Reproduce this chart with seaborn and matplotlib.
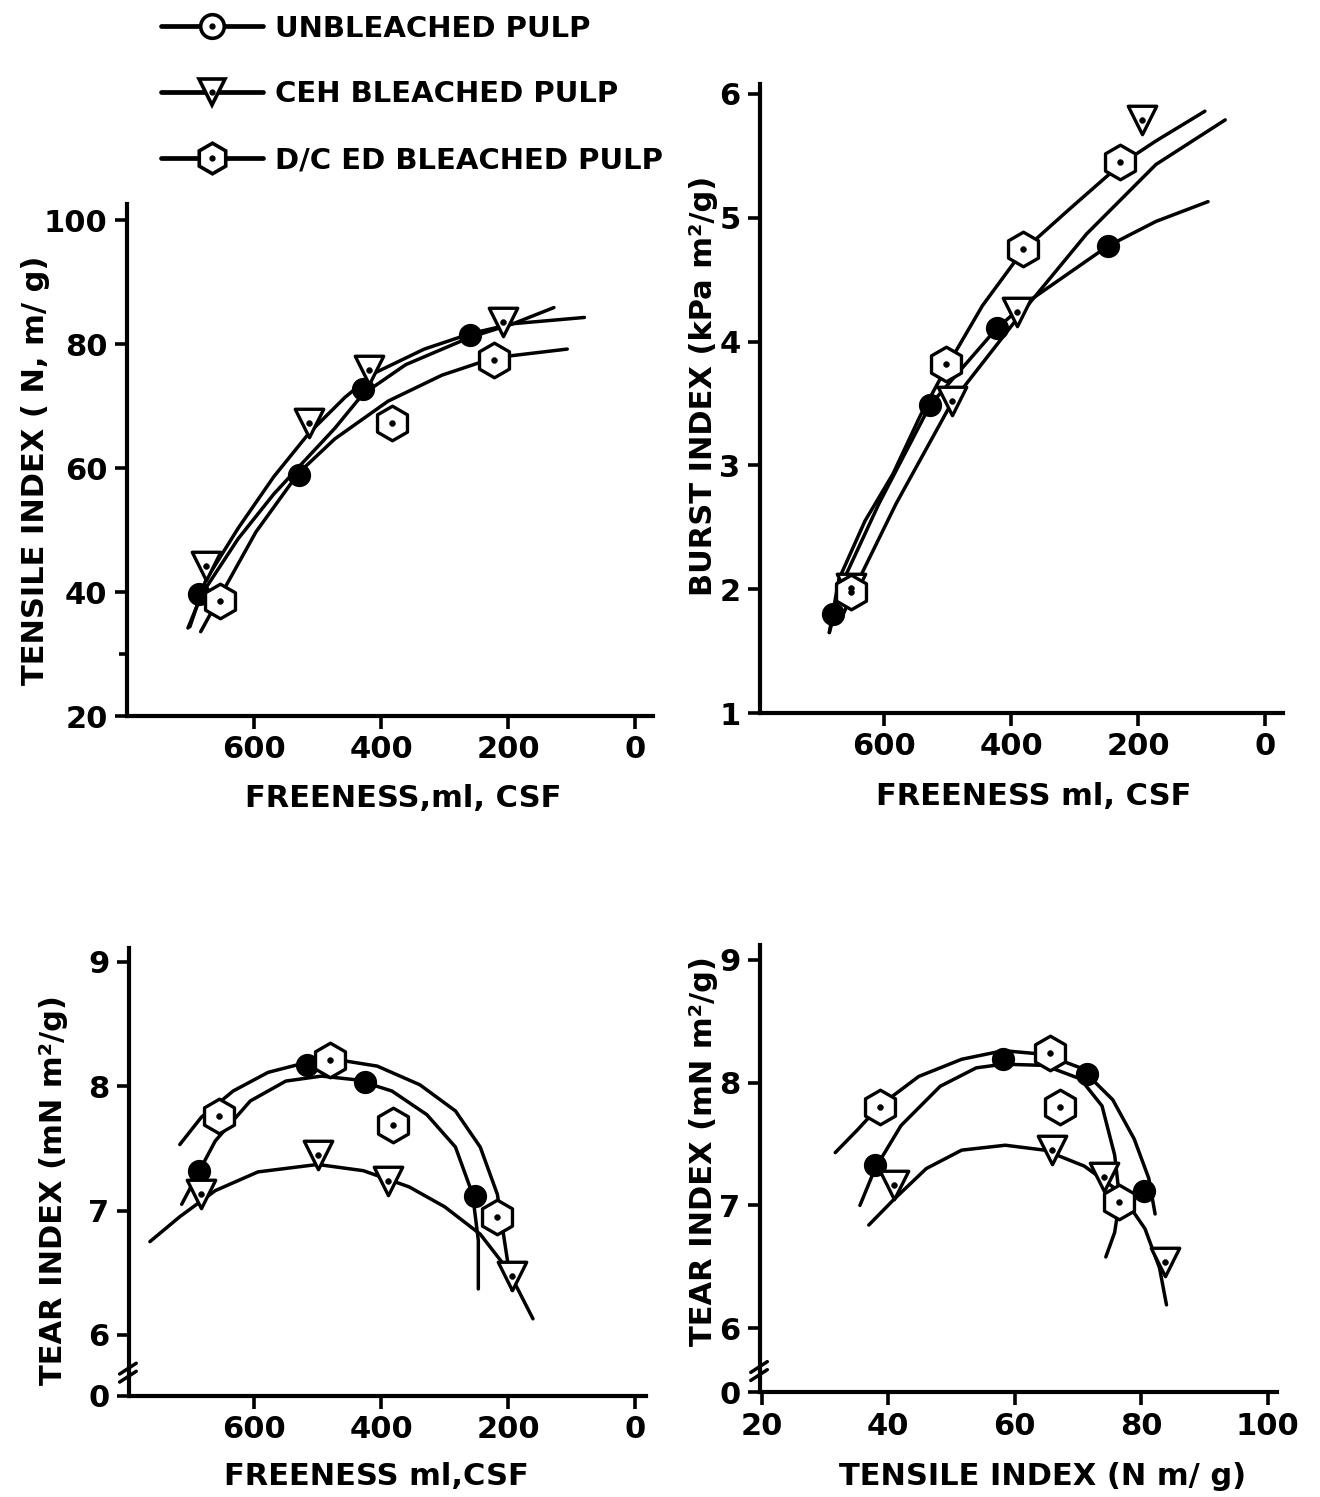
import numpy as np
import pandas as pd
import seaborn as sns
import matplotlib.pyplot as plt
from matplotlib.lines import Line2D
from matplotlib.legend_handler import HandlerTuple

sns.set_style('ticks')
plt.rcParams['font.family'] = ['DejaVu Sans']
plt.rcParams['font.weight'] = 'bold'
plt.rcParams['text.color'] = 'black'
plt.rcParams['axes.labelcolor'] = 'black'
plt.rcParams['axes.edgecolor'] = 'black'
plt.rcParams['xtick.color'] = 'black'
plt.rcParams['ytick.color'] = 'black'

labels = ['UNBLEACHED PULP', 'CEH BLEACHED PULP', 'D/C ED BLEACHED PULP']

# ---- panel 1: tensile index vs freeness (measured points)
p1_unb_x = [687, 530, 429, 260]
p1_unb_y = [39.7, 58.9, 72.8, 81.4]
p1_ceh_x = [676, 513, 419, 208]
p1_ceh_y = [44.2, 67.2, 75.8, 83.6]
p1_dce_x = [654, 383, 222]
p1_dce_y = [38.6, 67.2, 77.5]
# fitted curves as drawn
c1_unb_x = [704, 682, 625, 569, 524, 473, 429, 361, 260, 192, 128]
c1_unb_y = [34.2, 39.7, 48.6, 55.8, 60.8, 66.4, 71.9, 76.7, 81.1, 83.3, 85.9]
c1_ceh_x = [701, 676, 625, 569, 513, 457, 411, 332, 259, 192, 80]
c1_ceh_y = [34.4, 41.9, 50.3, 58.6, 65.7, 71.4, 75.3, 79.2, 81.7, 83.3, 84.3]
c1_dce_x = [684, 654, 597, 530, 473, 389, 304, 222, 107]
c1_dce_y = [33.6, 39.2, 49.7, 59.2, 64.7, 70.8, 75.0, 77.8, 79.2]

# ---- panel 2: burst index vs freeness
p2_unb_x = [680, 527, 422, 248]
p2_unb_y = [1.80, 3.49, 4.11, 4.77]
p2_ceh_x = [652, 493, 390, 194]
p2_ceh_y = [2.01, 3.52, 4.24, 5.79]
p2_dce_x = [652, 503, 382, 228]
p2_dce_y = [1.98, 3.82, 4.75, 5.45]
c2_unb_x = [686, 663, 608, 527, 422, 374, 248, 172, 90]
c2_unb_y = [1.65, 2.08, 2.69, 3.49, 4.11, 4.32, 4.77, 4.97, 5.13]
c2_ceh_x = [663, 646, 581, 493, 379, 281, 172, 63]
c2_ceh_y = [1.81, 2.01, 2.69, 3.51, 4.26, 4.87, 5.43, 5.79]
c2_dce_x = [686, 671, 630, 586, 543, 503, 445, 382, 308, 228, 172, 95]
c2_dce_y = [1.65, 2.08, 2.55, 2.93, 3.40, 3.78, 4.29, 4.73, 5.07, 5.43, 5.62, 5.86]

# ---- panel 3: tear index vs freeness
p3_unb_x = [686, 517, 425, 253]
p3_unb_y = [7.32, 8.17, 8.03, 7.12]
p3_ceh_x = [683, 500, 389, 194]
p3_ceh_y = [7.13, 7.45, 7.24, 6.47]
p3_dce_x = [656, 481, 381, 217]
p3_dce_y = [7.76, 8.21, 7.69, 6.95]
c3_unb_x = [714, 686, 661, 606, 550, 494, 439, 383, 328, 283, 256, 247, 247]
c3_unb_y = [7.05, 7.32, 7.56, 7.88, 8.04, 8.08, 8.05, 7.96, 7.77, 7.51, 7.13, 6.76, 6.37]
c3_ceh_x = [764, 717, 661, 594, 500, 428, 356, 300, 244, 200, 161]
c3_ceh_y = [6.75, 6.95, 7.16, 7.31, 7.37, 7.32, 7.19, 7.03, 6.81, 6.52, 6.13]
c3_dce_x = [717, 683, 633, 578, 517, 467, 406, 339, 283, 244, 217, 194]
c3_dce_y = [7.53, 7.75, 7.96, 8.11, 8.19, 8.21, 8.16, 8.01, 7.80, 7.51, 7.13, 6.36]

# ---- panel 4: tear index vs tensile index
p4_unb_x = [37.9, 58.2, 71.5, 80.5]
p4_unb_y = [7.33, 8.19, 8.07, 7.12]
p4_ceh_x = [40.9, 65.9, 74.1, 83.8]
p4_ceh_y = [7.17, 7.45, 7.23, 6.54]
p4_dce_x = [38.6, 65.6, 67.2, 76.5]
p4_dce_y = [7.80, 8.24, 7.80, 7.03]
c4_unb_x = [35.5, 37.9, 42.0, 48.2, 53.9, 58.2, 64.7, 70.4, 73.8, 75.8, 76.6, 75.8, 74.4]
c4_unb_y = [7.00, 7.30, 7.65, 7.97, 8.12, 8.15, 8.14, 8.03, 7.81, 7.41, 7.05, 6.78, 6.58]
c4_ceh_x = [36.9, 40.9, 46.0, 51.6, 58.5, 64.7, 71.0, 76.6, 80.6, 82.9, 84.0]
c4_ceh_y = [6.84, 7.05, 7.30, 7.45, 7.49, 7.45, 7.32, 7.11, 6.81, 6.49, 6.19]
c4_dce_x = [31.6, 35.2, 38.6, 44.8, 51.6, 58.2, 64.7, 70.4, 75.5, 78.9, 81.2, 82.2]
c4_dce_y = [7.43, 7.62, 7.81, 8.05, 8.19, 8.26, 8.23, 8.12, 7.86, 7.54, 7.22, 6.93]

fig = plt.figure(figsize=(13.2, 14.97), dpi=100)
ax1 = fig.add_axes([0.0962, 0.5217, 0.3985, 0.3420])
ax2 = fig.add_axes([0.5758, 0.5237, 0.3962, 0.4202])
ax3 = fig.add_axes([0.0977, 0.0675, 0.3917, 0.2993])
ax4 = fig.add_axes([0.5758, 0.0701, 0.3917, 0.2986])

LW = 2.5


def draw(ax, pts, curves):
    for cx, cy in curves:
        sns.lineplot(x=cx, y=cy, sort=False, estimator=None, color='black',
                     lw=LW, ax=ax, solid_capstyle='round', solid_joinstyle='round')
    (ux, uy), (tx, ty), (hx, hy) = pts
    sns.scatterplot(x=ux, y=uy, marker='o', s=240, color='black',
                    edgecolor='black', ax=ax, zorder=4)
    sns.scatterplot(x=tx, y=ty, marker='v', s=420, color='white',
                    edgecolor='black', linewidth=2.4, ax=ax, zorder=4)
    sns.scatterplot(x=hx, y=hy, marker='h', s=620, color='white',
                    edgecolor='black', linewidth=2.4, ax=ax, zorder=4)
    sns.scatterplot(x=list(tx) + list(hx), y=list(ty) + list(hy), marker='o',
                    s=18, color='black', edgecolor='black', ax=ax, zorder=5)


draw(ax1, [(p1_unb_x, p1_unb_y), (p1_ceh_x, p1_ceh_y), (p1_dce_x, p1_dce_y)],
     [(c1_unb_x, c1_unb_y), (c1_ceh_x, c1_ceh_y), (c1_dce_x, c1_dce_y)])
draw(ax2, [(p2_unb_x, p2_unb_y), (p2_ceh_x, p2_ceh_y), (p2_dce_x, p2_dce_y)],
     [(c2_unb_x, c2_unb_y), (c2_ceh_x, c2_ceh_y), (c2_dce_x, c2_dce_y)])
draw(ax3, [(p3_unb_x, p3_unb_y), (p3_ceh_x, p3_ceh_y), (p3_dce_x, p3_dce_y)],
     [(c3_unb_x, c3_unb_y), (c3_ceh_x, c3_ceh_y), (c3_dce_x, c3_dce_y)])
draw(ax4, [(p4_unb_x, p4_unb_y), (p4_ceh_x, p4_ceh_y), (p4_dce_x, p4_dce_y)],
     [(c4_unb_x, c4_unb_y), (c4_ceh_x, c4_ceh_y), (c4_dce_x, c4_dce_y)])

ax1.set_xlim(800, -28)
ax1.set_ylim(20, 102.6)
ax1.set_xticks([600, 400, 200, 0])
ax1.set_yticks([20, 40, 60, 80, 100])
ax1.set_yticks([30], minor=True)

ax2.set_xlim(795, -28)
ax2.set_ylim(1, 6.08)
ax2.set_xticks([600, 400, 200, 0])
ax2.set_yticks([1, 2, 3, 4, 5, 6])

ax3.set_xlim(797, -17)
ax3.set_ylim(5.51, 9.11)
ax3.set_xticks([600, 400, 200, 0])
ax3.set_yticks([5.51, 6, 7, 8, 9])
ax3.set_yticklabels(['0', '6', '7', '8', '9'])

ax4.set_xlim(19.7, 101.5)
ax4.set_ylim(5.48, 9.12)
ax4.set_xticks([20, 40, 60, 80, 100])
ax4.set_yticks([5.48, 6, 7, 8, 9])
ax4.set_yticklabels(['0', '6', '7', '8', '9'])

xlabels = ['FREENESS,ml, CSF', 'FREENESS ml, CSF', 'FREENESS ml,CSF', 'TENSILE INDEX (N m/ g)']
ylabels = ['TENSILE INDEX ( N, m/ g)', 'BURST INDEX (kPa m²/g)',
           'TEAR INDEX (mN m²/g)', 'TEAR INDEX (mN m²/g)']
xl_pos = [(0.525, -0.133), (0.524, -0.110), (0.478, -0.147), (0.547, -0.157)]
yl_pos = [(-0.146, 0.48), (-0.080, 0.52), (-0.118, 0.46), (-0.081, 0.54)]

for ax, xl, yl, xp, yp in zip([ax1, ax2, ax3, ax4], xlabels, ylabels, xl_pos, yl_pos):
    sns.despine(ax=ax)
    ax.spines['left'].set_linewidth(3)
    ax.spines['bottom'].set_linewidth(3)
    ax.tick_params(which='both', direction='out', length=9, width=2.6,
                   labelsize=22, pad=5, colors='black')
    ax.tick_params(which='minor', length=6)
    for t in ax.get_xticklabels() + ax.get_yticklabels():
        t.set_fontweight('bold')
    ax.set_xlabel(xl, fontsize=22, fontweight='bold', color='black')
    ax.set_ylabel(yl, fontsize=22, fontweight='bold', color='black')
    ax.xaxis.set_label_coords(*xp)
    ax.yaxis.set_label_coords(*yp)
    ax.set_facecolor('white')

# axis break marks on the tear index panels
for ax, f in [(ax3, 0.055), (ax4, 0.05)]:
    for d in (-0.012, 0.006):
        ax.plot([-0.018, 0.014], [f + d - 0.012, f + d + 0.012], color='black',
                lw=2.5, transform=ax.transAxes, clip_on=False)


# legend
def handle(marker, ms):
    return (Line2D([], [], color='black', lw=3.4, marker=marker, ms=ms,
                   mfc='white', mec='black', mew=2.6),
            Line2D([], [], ls='', marker='o', ms=3.5, color='black'))


handles = [handle('o', 17), handle('v', 19), handle('h', 22)]
leg = fig.legend(handles, labels, loc='upper left', bbox_to_anchor=(0.111, 1.0),
                 frameon=False, handlelength=3.5, handletextpad=0.4,
                 labelspacing=1.3, borderpad=0,
                 handler_map={tuple: HandlerTuple(ndivide=1)},
                 prop={'weight': 'bold', 'size': 21})
for t in leg.get_texts():
    t.set_color('black')

fig.savefig('out.png', dpi=100, facecolor='white')
